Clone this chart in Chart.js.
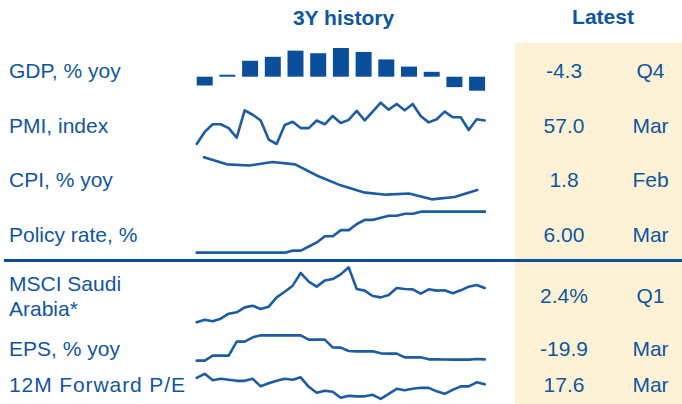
<!DOCTYPE html>
<html>
<head>
<meta charset="utf-8">
<script src="https://cdn.jsdelivr.net/npm/chart.js@4/dist/chart.umd.min.js"></script>
<style>
  html, body { margin: 0; padding: 0; background: #ffffff; }
  #board { position: relative; width: 682px; height: 404px; overflow: hidden;
           font-family: "Liberation Sans", Arial, sans-serif; color: #0f569f; }
  .latestBg { position: absolute; left: 515px; top: 43px; width: 167px; height: 361px; background: #fdf2d6; }
  .rule { position: absolute; left: 4px; top: 259px; width: 678px; height: 3px; background: #0b4f9c; }
  .t { position: absolute; font-size: 21px; line-height: 21px; white-space: nowrap; }
  .c { transform: translateX(-50%); }
  .b { font-weight: bold; }
  .wide { letter-spacing: 0.9px; }
  canvas { position: absolute; }
</style>
</head>
<body>
<div id="board">
  <div class="latestBg"></div>
  <div class="rule"></div>
</div>
<script>
// Monthly series run Mar 2021 .. Mar 2024 (37 points); GDP is quarterly.
const months = ['Mar21','Apr21','May21','Jun21','Jul21','Aug21','Sep21','Oct21','Nov21','Dec21',
  'Jan22','Feb22','Mar22','Apr22','May22','Jun22','Jul22','Aug22','Sep22','Oct22','Nov22','Dec22',
  'Jan23','Feb23','Mar23','Apr23','May23','Jun23','Jul23','Aug23','Sep23','Oct23','Nov23','Dec23',
  'Jan24','Feb24','Mar24'];
const quarters = ['Q4 20','Q1 21','Q2 21','Q3 21','Q4 21','Q1 22','Q2 22','Q3 22','Q4 22','Q1 23','Q2 23','Q3 23','Q4 23'];

const gdpYoY = [-2.7, 0.6, 4.9, 6.1, 8.0, 7.2, 8.8, 7.6, 5.3, 3.1, 1.5, -3.2, -4.3];
const pmi = [53.3, 55.2, 56.4, 56.4, 55.8, 54.3, 58.6, 57.9, 57.0, 54.0, 53.3, 56.3, 56.8,
  55.8, 55.8, 57.0, 56.4, 57.7, 56.6, 57.1, 58.5, 57.0, 58.4, 59.8, 58.7, 59.6, 58.6,
  59.6, 57.7, 56.7, 57.2, 58.4, 57.5, 57.5, 55.5, 57.2, 57.0];
const cpiPeriods = ['p1','p2','p3','p4','p5','p6','p7','p8','p9','p10','p11','p12','p13'];
const cpiYoY = [3.2, 2.9, 2.85, 3.0, 2.9, 2.4, 2.0, 1.7, 1.6, 1.65, 1.4, 1.5, 1.8];
const policyRate = [1.00, 1.00, 1.00, 1.00, 1.00, 1.00, 1.00, 1.00, 1.00, 1.00, 1.00, 1.00,
  1.25, 1.25, 1.75, 2.25, 3.00, 3.00, 3.75, 3.75, 4.50, 5.00, 5.00, 5.25, 5.50, 5.50,
  5.75, 5.75, 6.00, 6.00, 6.00, 6.00, 6.00, 6.00, 6.00, 6.00, 6.00];
const msciSaudi = [100.0, 101.9, 100.7, 102.6, 106.1, 107.1, 110.6, 111.8, 109.5, 111.1,
  117.7, 121.7, 126.0, 135.0, 128.8, 125.3, 129.6, 130.7, 134.0, 139.0, 123.6, 122.5,
  118.7, 117.7, 119.4, 124.3, 123.6, 123.4, 120.3, 123.4, 122.5, 122.7, 120.6, 122.7,
  125.3, 126.5, 124.3];
const epsYoY = [-23.9, -23.9, -8.9, -8.9, -8.9, 33.1, 33.1, 46.1, 52.1, 52.1, 52.1, 52.1,
  52.1, 52.1, 39.1, 39.1, 39.1, 16.1, 15.1, 5.1, 4.1, 4.1, 4.1, -1.9, -2.9, -2.9, -13.9,
  -13.9, -13.9, -19.9, -19.9, -20.4, -20.9, -20.9, -20.9, -18.9, -19.9];
const fwdPE = [18.9, 19.7, 18.4, 18.7, 18.5, 18.3, 18.3, 18.7, 17.2, 17.8, 18.3, 18.7, 18.5,
  19.0, 17.1, 15.9, 16.3, 16.1, 14.9, 15.3, 15.2, 15.2, 15.5, 14.7, 15.7, 16.7, 16.4, 16.7,
  16.9, 16.9, 16.2, 15.7, 16.5, 17.2, 17.2, 18.0, 17.6];

const rowLabels = [['GDP, % yoy'], ['PMI, index'], ['CPI, % yoy'], ['Policy rate, %'],
  ['MSCI Saudi', 'Arabia*'], ['EPS, % yoy'], ['12M Forward P/E']];
const latestValues = ['-4.3', '57.0', '1.8', '6.00', '2.4%', '-19.9', '17.6'];
const latestPeriods = ['Q4', 'Mar', 'Feb', 'Mar', 'Q1', 'Mar', 'Mar'];

const board = document.getElementById('board');
const LINE = '#1b5ca5';
const BAR = '#0b4f9c';

function addText(str, x, baseline, cls) {
  const d = document.createElement('div');
  d.className = 't ' + (cls || '');
  d.textContent = str;
  d.style.left = x + 'px';
  d.style.top = (baseline - 17.8) + 'px';
  board.appendChild(d);
}

// Headers
addText('3Y history', 343.5, 24.5, 'c b');
addText('Latest', 603, 24, 'c b');

// Row text
const labelBase = [[78], [132.5], [187], [241.5], [290.5, 315.5], [355.5], [392]];
const valueBase = [78, 132.5, 187, 241.5, 303, 355.5, 392];
rowLabels.forEach((lines, i) => lines.forEach((s, j) =>
  addText(s, 9, labelBase[i][j], i === 6 ? 'wide' : '')));
latestValues.forEach((s, i) => addText(s, 564, valueBase[i], 'c'));
latestPeriods.forEach((s, i) => addText(s, 650.5, valueBase[i], 'c'));

// Build a canvas whose plot area spans [x0,x1] x [yTop,yBot]
function spark(type, labels, data, box, yMin, yMax, opts) {
  const P = 4;
  const left = Math.floor(box.x0 - P), top = Math.floor(box.yTop - P);
  const right = Math.ceil(box.x1 + P), bottom = Math.ceil(box.yBot + P);
  const cv = document.createElement('canvas');
  cv.width = right - left; cv.height = bottom - top;
  cv.style.left = left + 'px'; cv.style.top = top + 'px';
  cv.style.width = cv.width + 'px'; cv.style.height = cv.height + 'px';
  board.appendChild(cv);
  const ds = Object.assign({ data: data, clip: false }, opts);
  new Chart(cv, {
    type: type,
    data: { labels: labels, datasets: [ds] },
    options: {
      responsive: false, animation: false, devicePixelRatio: 1,
      layout: { padding: { left: box.x0 - left, right: right - box.x1, top: box.yTop - top, bottom: bottom - box.yBot } },
      plugins: { legend: { display: false }, tooltip: { enabled: false } },
      scales: {
        x: { display: false, offset: type === 'bar', grid: { display: false } },
        y: { display: false, min: yMin, max: yMax, grid: { display: false } }
      }
    }
  });
}

const lineStyle = { borderColor: LINE, borderWidth: 2.6, pointRadius: 0, tension: 0, fill: false,
  borderJoinStyle: 'round', borderCapStyle: 'round' };

spark('bar', quarters, gdpYoY, { x0: 193.35, x1: 488.45, yTop: 44.1, yBot: 96.26 }, -6, 10,
  { backgroundColor: BAR, borderWidth: 0, barPercentage: 0.705, categoryPercentage: 1 });
spark('line', months, pmi, { x0: 196.7, x1: 484.7, yTop: 101.4, yBot: 145.9 }, 53, 60, lineStyle);
spark('line', cpiPeriods, cpiYoY, { x0: 204, x1: 477.3, yTop: 152.7, yBot: 204.0 }, 1.2, 3.4, lineStyle);
spark('line', months, policyRate, { x0: 196.7, x1: 485, yTop: 207.57, yBot: 256.77 }, 0.5, 6.5, lineStyle);
spark('line', months, msciSaudi, { x0: 196.7, x1: 484.7, yTop: 264.52, yBot: 325.15 }, 98, 141, lineStyle);
spark('line', months, epsYoY, { x0: 196.7, x1: 484.7, yTop: 332.7, yBot: 362.7 }, -30, 60, lineStyle);
spark('line', months, fwdPE, { x0: 196.7, x1: 484.7, yTop: 369.83, yBot: 402.33 }, 14, 20.5, lineStyle);
</script>
</body>
</html>
